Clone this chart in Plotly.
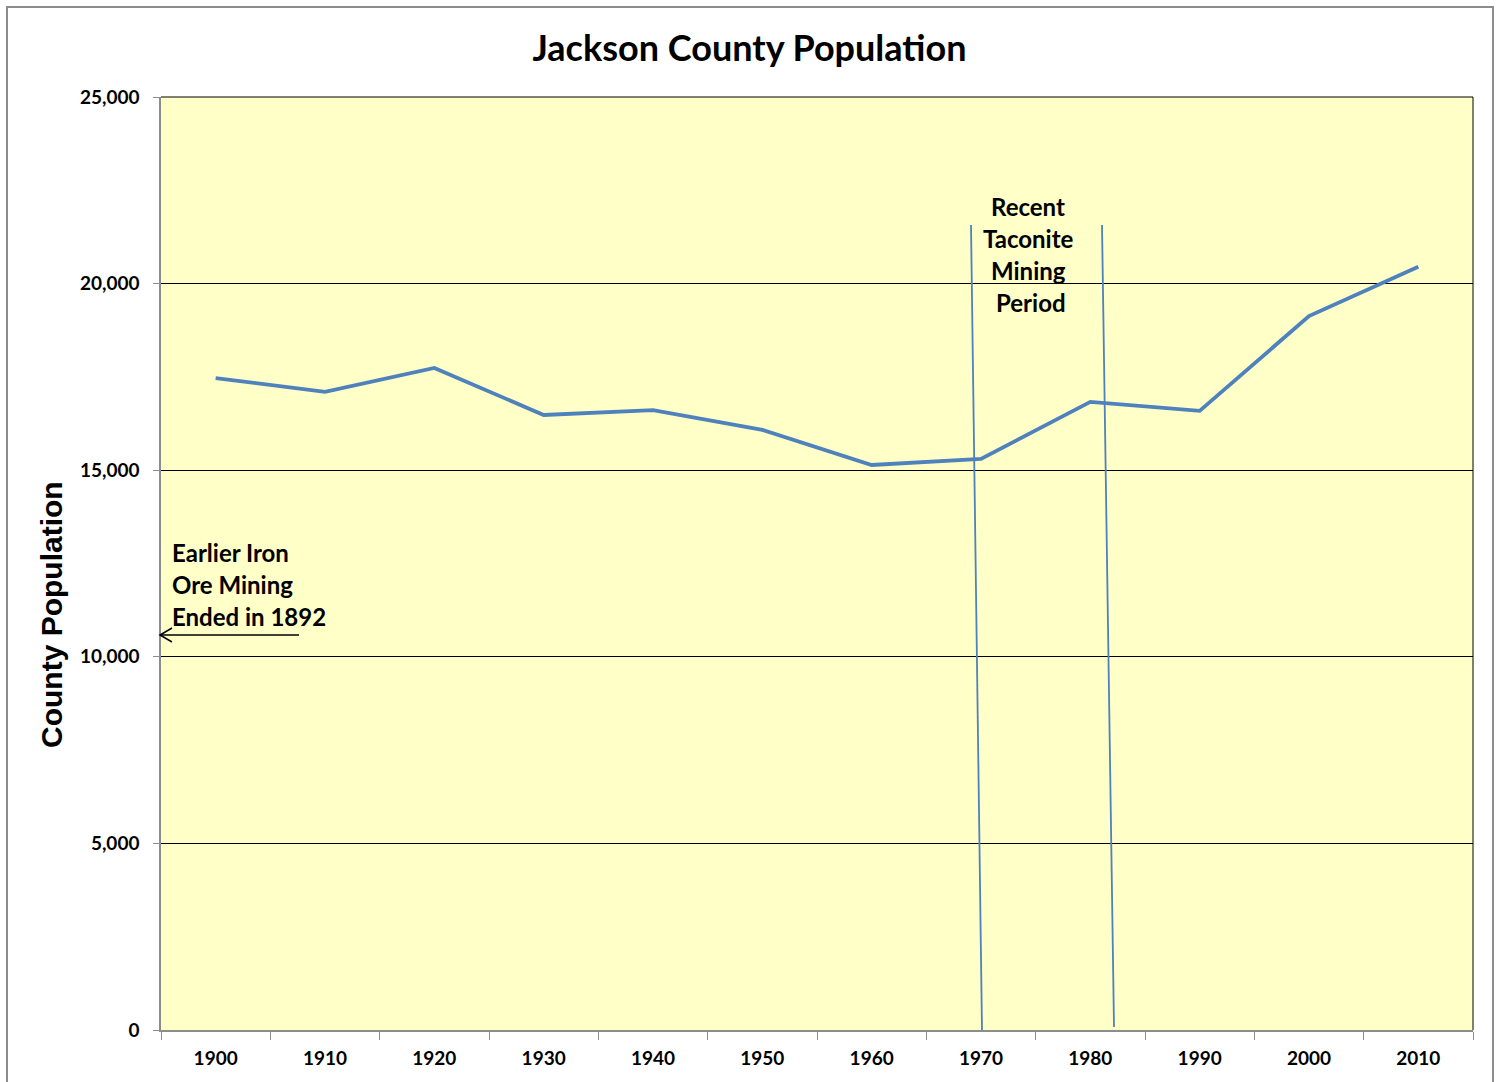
import plotly.graph_objects as go

years = ["1900", "1910", "1920", "1930", "1940", "1950", "1960", "1970", "1980", "1990", "2000", "2010"]
population = [17470, 17100, 17740, 16480, 16610, 16080, 15140, 15300, 16830, 16590, 19130, 20450]
y_ticks = [0, 5000, 10000, 15000, 20000, 25000]

W, H = 1499, 1082
L, R, T, B = 161, 26, 97, 52
PW, PH = W - L - R, H - T - B

def px(x):
    return (x - L) / PW

def py(y):
    return (H - B - y) / PH

FONT = "Lato"
fig = go.Figure()
fig.add_trace(go.Scatter(x=years, y=population, mode="lines",
                         line=dict(color="#4F81BD", width=3.8), showlegend=False,
                         hoverinfo="x+y"))

shapes = []
# outer chart border
shapes.append(dict(type="rect", xref="paper", yref="paper", x0=px(7), x1=px(1493), y0=py(1095), y1=py(7),
                   line=dict(color="#8c8c8c", width=2), layer="below"))
# right and top plot border
shapes.append(dict(type="line", xref="paper", yref="paper", x0=1, x1=1, y0=0, y1=1,
                   line=dict(color="black", width=1)))
shapes.append(dict(type="line", xref="paper", yref="paper", x0=0, x1=1, y0=1, y1=1,
                   line=dict(color="black", width=1)))
# taconite period lines
for (xa, ya, xb, yb) in [(971, 225, 982, 1030), (1102, 225, 1114, 1027)]:
    shapes.append(dict(type="line", xref="paper", yref="paper", x0=px(xa), y0=py(ya), x1=px(xb), y1=py(yb),
                       line=dict(color="#4F81BD", width=1.8)))
# arrow
shapes.append(dict(type="line", xref="paper", yref="paper", x0=px(299), y0=py(635), x1=px(160), y1=py(635),
                   line=dict(color="black", width=1.5)))
shapes.append(dict(type="path", xref="paper", yref="paper",
                   path=f"M {px(172)},{py(628)} L {px(160)},{py(635)} L {px(172)},{py(642)}",
                   line=dict(color="black", width=1.5)))

annotations = []
for i, t in enumerate(["Earlier Iron", "Ore Mining", "Ended in 1892"]):
    annotations.append(dict(text=t, xref="paper", yref="paper", x=px(170), y=py(552 + 32 * i),
                            xanchor="left", yanchor="middle", showarrow=False,
                            font=dict(family=FONT, size=24, color="black", weight="bold")))
for i, t in enumerate(["Recent", "Taconite", "Mining", "Period"]):
    annotations.append(dict(text=t, xref="paper", yref="paper", x=px(1028 + (3 if i == 3 else 0)), y=py(207 + 31.7 * i),
                            xanchor="center", yanchor="middle", showarrow=False,
                            font=dict(family=FONT, size=24, color="black", weight="bold")))
# y axis title
annotations.append(dict(text="<b>County Population</b>", xref="paper", yref="paper", x=px(52), y=py(615),
                        xanchor="center", yanchor="middle", showarrow=False, textangle=-90,
                        font=dict(family="Liberation Sans", size=30, color="black")))

fig.update_layout(
    width=W, height=H,
    margin=dict(l=L, r=R, t=T, b=B),
    paper_bgcolor="white", plot_bgcolor="#FFFFC8",
    title=dict(text="<b>Jackson County Population</b>", x=0.5, xanchor="center", y=1 - 48 / H, yanchor="middle",
               font=dict(family=FONT, size=36, color="black")),
    shapes=shapes, annotations=annotations,
    xaxis=dict(type="category", range=[-0.5, len(years) - 0.5], tickson="boundaries", ticks="outside",
               ticklen=8, tickcolor="#8c8c8c", ticklabelstandoff=10,
               showline=True, linecolor="#8c8c8c", linewidth=1.5, showgrid=False,
               tickfont=dict(family=FONT, size=19, color="black", weight="bold"), fixedrange=True),
    yaxis=dict(range=[0, 25000], tickvals=y_ticks, tickformat=",", ticks="outside", ticklen=6,
               tickcolor="#8c8c8c", showline=True, linecolor="#8c8c8c", linewidth=1.5, ticklabelstandoff=10,
               showgrid=True, gridcolor="black", gridwidth=1, zeroline=False,
               tickfont=dict(family=FONT, size=19, color="black", weight="bold")),
)

fig.write_html("out.html", config={"displayModeBar": False},
               post_script="document.body.style.margin='0';")
